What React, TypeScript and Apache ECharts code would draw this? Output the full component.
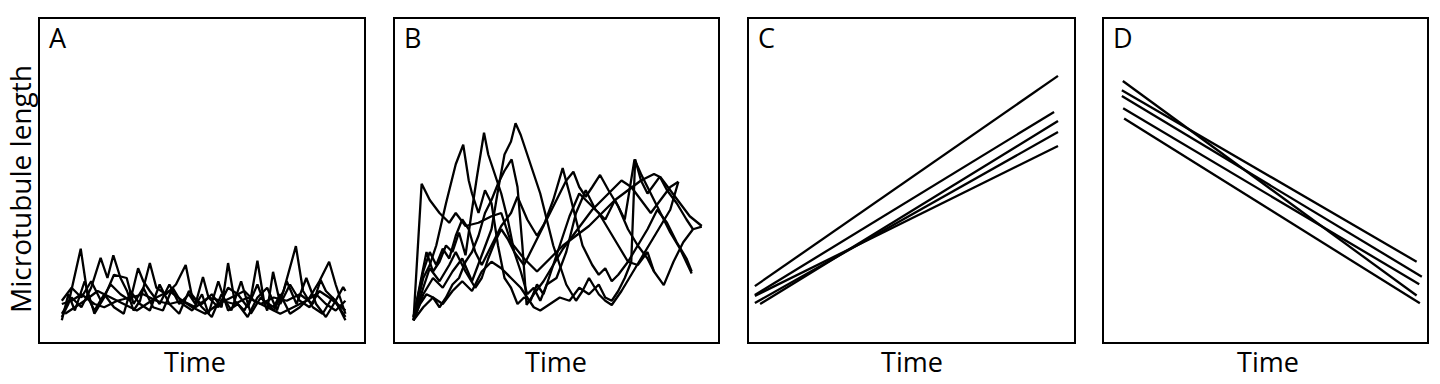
import React, { useEffect, useRef } from "react";
import * as echarts from "echarts";

type Pt = [number, number];

const panelLetters = ["A", "B", "C", "D"];
const xAxisTitle = "Time";
const yAxisTitle = "Microtubule length";

// Panel A: dynamic instability, short microtubules
const seriesA1: Pt[] = [[7,8],[9,12],[12.8,29],[15,14],[17,10],[20,15],[23,11],[26,9],[28,16],[31,12],[34,10],[37,18],[40,12],[43,9],[46,16],[50,11],[53,8],[56,15],[59,10],[62,19],[65,9],[68,14],[72,10],[75,16],[78.8,29.8],[81,16],[84,11],[87,9],[90,14],[94,8]];
const seriesA2: Pt[] = [[7,9],[10,14],[13,11],[16,17],[18.9,26.2],[21,20],[22.8,27],[25,20],[27,16],[29,10],[31,13],[34,24.6],[36,17],[39,15],[42,18],[45,24],[47,14],[50,12],[53,15],[56,11],[58,24.6],[60,13],[63,10],[65,14],[67,25.3],[69,13],[72,11],[74,15],[77,9],[80,11],[83,14],[86,19],[89,25],[91,18],[94,9]];
const seriesA3: Pt[] = [[7,13],[10,17],[13,14],[16,19],[19,13],[22,18],[25,15],[28,13],[30.4,23],[32,19],[34,16],[37,12],[40,18],[43,12],[46,15],[48,12],[50.3,20.3],[52,14],[55,11],[58,17],[61,15],[64,11],[67,18],[70,10],[71.8,21.9],[74,12],[77,18],[80,13],[83,11],[86,16],[89,14],[94,10]];
const seriesA4: Pt[] = [[7,7],[9,15],[11,10],[14,19],[17,9],[20,14],[23,21],[26.9,20],[29,12],[32,17],[35,11],[38,10],[41,17],[44,12],[47,10],[50,15],[52,9],[55,19],[58,10],[61,12],[64,8],[67,14],[70,17],[73,10],[76,19],[79,12],[82,20],[85,12],[88,8],[91,13],[94,7]];
const seriesA5: Pt[] = [[7,12],[10,13],[13,15],[17,12],[20,11],[24,13],[28,14],[32,15],[36,13],[40,12],[44,13],[48,11],[52,14],[56,13],[60,12],[64,14],[68,12],[72,14],[76,13],[80,15],[84,12],[86.4,19.4],[88,16],[91,13],[93.3,17.2],[94,16]];
const seriesA6: Pt[] = [[8,9],[11,11],[14,13],[18,16],[22,14],[26,12],[30,10],[33,12],[36,14],[40,16],[44,13],[47,11],[51,9],[55,12],[59,14],[63,16],[66,13],[70,11],[74,9],[78,11],[82,13],[85,15],[88,12],[91,10],[94,13]];

// Panel B: dynamic instability, longer microtubules
const seriesB1: Pt[] = [[6,7],[8.5,49],[11,44],[14,40],[17,37],[19,40],[22,36],[26,37],[30,39],[33,40],[36,31],[40,26],[44,22],[48,26],[52,30],[56,33],[60,36],[64,40],[68,44],[72,47],[76,50],[80,52],[82,51],[85,47],[88,43],[91,39],[94.7,36]];
const seriesB2: Pt[] = [[6,7],[9,20],[11,24],[13,30],[16,43],[19,55],[21.3,61],[23,50],[24,46],[26,40],[28,47],[30,43],[32,30],[34,20],[36,17],[38,12],[40,14],[42,13],[44,18],[46,15],[48,21],[51,30],[54,39],[57,46],[60,43],[63,40],[66,35],[69,30],[72,25],[75,24],[78,28],[80,22]];
const seriesB3: Pt[] = [[6,8],[8,18],[10,28],[12,22],[14,25],[16,30],[18,28],[20,34],[22,27],[24,41],[25.5,51],[27.7,64.7],[29,58],[31,52],[33,46],[35,38],[37,28],[39,22],[41,15],[43,17],[45,13],[47,18],[50,20],[53,28],[56,40],[59,47],[62,41],[65,38],[68,44],[71,38],[74,56.5],[76,52],[79,46],[82,40],[85,34],[88,29],[91.6,21.4]];
const seriesB4: Pt[] = [[6,7],[9,15],[12,20],[15,17],[18,22],[21,26],[24,19],[27,27],[30,35],[32,47],[34,58],[36,62],[37.4,67.6],[39,64],[41,58],[43,52],[45,46],[47,38],[49,30],[51,24],[53,18],[56,13],[58,16],[60,20],[63,15],[65,13],[67,11.7],[70,16],[73,21],[76,26],[79,31],[82,36],[85,41],[87.5,49.6]];
const seriesB5: Pt[] = [[6,7],[8,12],[10,15],[12,14],[14,11],[16,14],[18,18],[20,20],[22,25],[24,28],[26,33],[28,40],[30,44],[32,49],[34,53],[36.2,56.5],[38,48],[39.5,30],[40.8,11.7],[43,15],[46,19],[49,24],[52,29],[55,33],[58,37],[61,41],[64,44],[67,47],[70,50],[73,48],[76,44],[79,40],[82,44],[85,48],[87.5,49.6]];
const seriesB6: Pt[] = [[6,7],[9,17],[11,23],[14,19],[17,24],[19,28],[22,22],[25,17],[27,20],[29,26],[31,31],[33,35],[35,32],[37,28],[40,24],[43,30],[46,36],[49,44],[51.9,53.8],[54,46],[56,38],[58,30],[61,24],[63,21],[65,23],[67,19],[69,21],[72,25],[75,30],[78,35],[81,41],[84,37],[87,31],[90,26],[91.6,22]];
const seriesB7: Pt[] = [[6,8],[9,22],[11,28],[13,24],[15,29],[17,26],[19,33],[21,38],[23,35],[25,28],[27,24],[30,30],[33,36],[36,40],[38,45],[41,38],[44,33],[47,38],[50,44],[53,50],[55.2,52.7],[57,48],[59,45],[61,48],[63.4,51.7],[66,47],[69,42],[72,35],[75,30],[78,26],[80,22],[83,17.8],[86,25],[89,31],[92,35],[94.7,35.8]];
const seriesB8: Pt[] = [[6,7],[9,11],[12,14],[15,12],[18,16],[21,19],[24,16],[27,22],[30,25],[33,23],[36,20],[39,17],[41,14],[43,11],[45,10],[48,12],[51,14],[54,13],[57,17],[60,15],[63,18],[65,14],[67,13],[69,16],[71,20],[73,25],[74.2,56.5],[76,50],[78,46],[81.8,51.2],[84,47],[87,43],[90,38],[92,35]];

// Panel C: steady growth
const seriesC: Pt[][] = [
  [[2.1,17.5],[94.8,82.2]],
  [[2.1,14.8],[93.6,71.1]],
  [[3.7,12.0],[94.8,68.3]],
  [[2.1,12.3],[94.8,64.9]],
  [[2.1,14.5],[94.8,60.6]],
];

// Panel D: steady shrinkage
const seriesD: Pt[][] = [
  [[6.1,80.6],[96.5,14.6]],
  [[5.8,77.8],[96.5,25.0]],
  [[5.8,76.0],[98.1,20.4]],
  [[6.2,72.2],[97.3,18.1]],
  [[6.5,69.1],[97.5,12.2]],
];

const panelSeries: Pt[][][] = [
  [seriesA1, seriesA2, seriesA3, seriesA4, seriesA5, seriesA6],
  [seriesB1, seriesB2, seriesB3, seriesB4, seriesB5, seriesB6, seriesB7, seriesB8],
  seriesC,
  seriesD,
];

const FONT = "'Open Sans', 'Noto Sans', sans-serif";

export default function App() {
  const ref = useRef<HTMLDivElement>(null);
  useEffect(() => {
    if (!ref.current) return;
    const chart = echarts.init(ref.current, undefined, { renderer: "svg" });
    const grids = [
      { left: 39, top: 18, width: 326, height: 325 },
      { left: 394, top: 18, width: 325, height: 325 },
      { left: 748, top: 18, width: 327, height: 325 },
      { left: 1103, top: 18, width: 325, height: 325 },
    ];
    const timeCenters = [195, 556, 912, 1268];
    const series: any[] = [];
    panelSeries.forEach((list, gi) => {
      list.forEach((pts) => {
        series.push({
          type: "line",
          xAxisIndex: gi,
          yAxisIndex: gi,
          data: pts,
          symbol: "none",
          silent: true,
          lineStyle: { color: "#000", width: 2.3 },
        });
      });
    });
    const graphic: any[] = [];
    graphic.push({
      type: "text",
      x: 20,
      y: 189,
      rotation: Math.PI / 2,
      z: 100,
      style: {
        text: yAxisTitle,
        fontSize: 28,
        fontFamily: FONT,
        fill: "#000",
        textAlign: "center",
        textVerticalAlign: "middle",
      },
    });
    grids.forEach((g, i) => {
      graphic.push({
        type: "text",
        x: g.left + 10,
        y: 37,
        style: {
          text: panelLetters[i],
          fontSize: 27,
          fontFamily: FONT,
          fill: "#000",
          textAlign: "left",
          textVerticalAlign: "middle",
        },
      });
      graphic.push({
        type: "text",
        x: timeCenters[i],
        y: 361,
        style: {
          text: xAxisTitle,
          fontSize: 27,
          fontFamily: FONT,
          fill: "#000",
          textAlign: "center",
          textVerticalAlign: "middle",
        },
      });
    });
    chart.setOption({
      animation: false,
      backgroundColor: "#fff",
      grid: grids.map((g) => ({
        ...g,
        show: true,
        borderColor: "#000",
        borderWidth: 2,
        backgroundColor: "transparent",
      })),
      xAxis: grids.map((_, i) => ({
        type: "value",
        gridIndex: i,
        min: 0,
        max: 100,
        show: false,
      })),
      yAxis: grids.map((_, i) => ({
        type: "value",
        gridIndex: i,
        min: 0,
        max: 100,
        show: false,
      })),
      series,
      graphic,
    });
    return () => chart.dispose();
  }, []);
  return (
    <div
      ref={ref}
      style={{ position: "absolute", left: 0, top: 0, width: 1440, height: 384 }}
    />
  );
}
